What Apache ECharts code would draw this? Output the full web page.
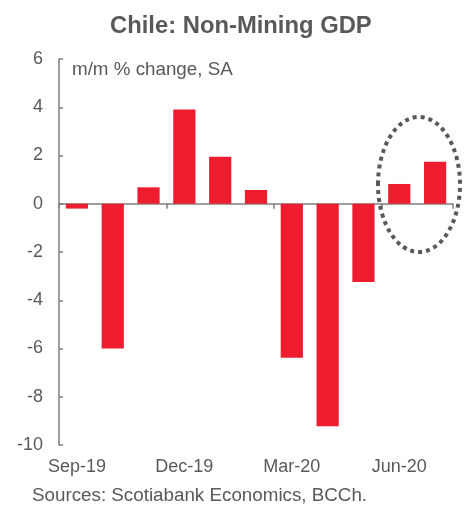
<!DOCTYPE html>
<html>
<head>
<meta charset="utf-8">
<script src="https://cdn.jsdelivr.net/npm/echarts@6/dist/echarts.min.js"></script>
<style>
html,body{margin:0;padding:0;background:#fff;}
#c{width:464px;height:505px;}
</style>
</head>
<body>
<div id="c"></div>
<script>
const categories = ['Sep-19','Oct-19','Nov-19','Dec-19','Jan-20','Feb-20','Mar-20','Apr-20','May-20','Jun-20','Jul-20'];
const values = [-0.2, -6.0, 0.68, 3.91, 1.95, 0.57, -6.38, -9.22, -3.24, 0.82, 1.74];
const yTicks = [-10, -8, -6, -4, -2, 0, 2, 4, 6];

const chart = echarts.init(document.getElementById('c'), null, {renderer:'canvas'});
const txt = '#595959';
const axisCol = '#7f7f7f';
const font = '"Liberation Sans", Arial, sans-serif';

chart.setOption({
  animation: false,
  title: {
    text: 'Chile: Non-Mining GDP',
    left: 105, top: 9,
    textStyle: {fontFamily: font, fontSize: 23.8, fontWeight: 'bold', color: txt}
  },
  graphic: [
    {type:'text', left: 72, top: 60, style:{text:'m/m % change, SA', fontFamily: font, fontSize: 18.8, fill: txt}},
    {type:'text', left: 32, top: 486, style:{text:'Sources: Scotiabank Economics, BCCh.', fontFamily: font, fontSize: 18.8, fill: txt}},
    {type:'ellipse', shape:{cx:419, cy:184.5, rx:41, ry:67.5}, z: 100,
     style:{fill:'none', stroke:'#595959', lineWidth:4, lineDash:[4,4]}}
  ],
  grid: {left: 59, top: 59, width: 394, height: 386, containLabel: false},
  xAxis: [
    {
      type: 'category', data: categories, position: 'bottom',
      axisLine: {show: false, onZero: false},
      axisTick: {show: false},
      axisLabel: {interval: 2, color: txt, fontFamily: font, fontSize: 18, margin: 13}
    },
    {
      type: 'category', data: categories, position: 'bottom',
      axisLine: {show: true, onZero: true, lineStyle: {color: axisCol, width: 1.5}},
      axisTick: {show: true, interval: 2, length: 5, lineStyle: {color: axisCol, width: 1.5}},
      axisLabel: {show: false}
    }
  ],
  yAxis: {
    type: 'value', min: yTicks[0], max: yTicks[yTicks.length-1], interval: 2,
    axisLine: {show: true, lineStyle: {color: axisCol, width: 1.5}},
    axisTick: {show: true, inside: true, length: 4, lineStyle: {color: axisCol, width: 1.5}},
    splitLine: {show: false},
    axisLabel: {color: txt, fontFamily: font, fontSize: 18, margin: 16}
  },
  series: [{
    type: 'bar', data: values, xAxisIndex: 0,
    barCategoryGap: '38%',
    itemStyle: {color: '#ED1C2E'}
  }]
});
</script>
</body>
</html>
